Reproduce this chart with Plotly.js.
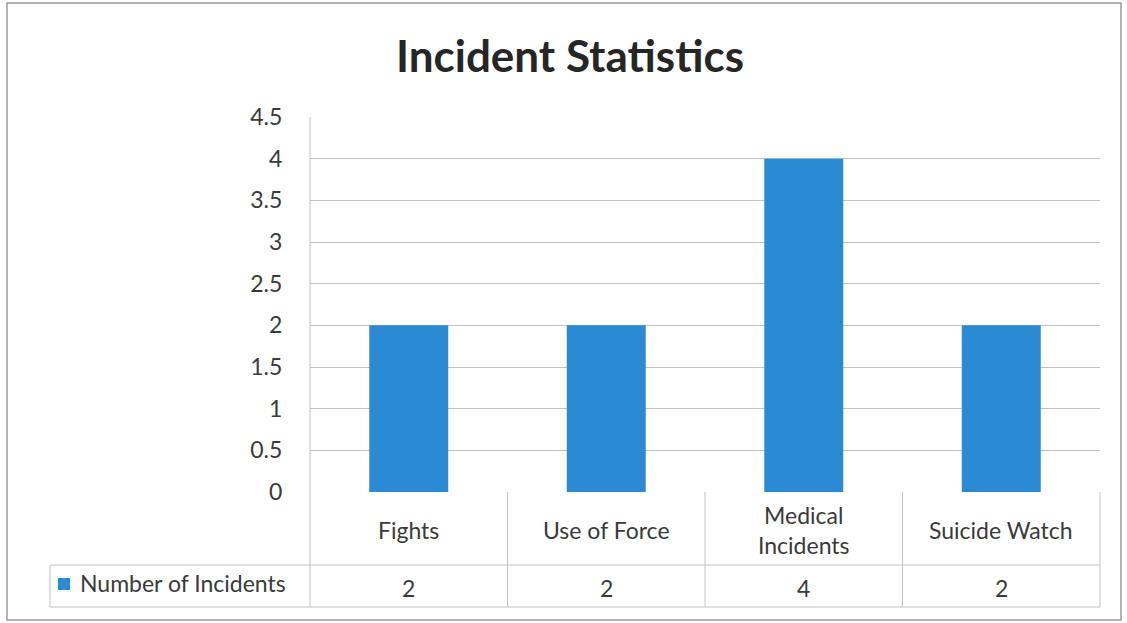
<!DOCTYPE html>
<html>
<head>
<meta charset="utf-8">
<script src="https://cdn.plot.ly/plotly-3.0.1.min.js"></script>
<style>html,body{margin:0;padding:0;background:#fff;}#chart{width:1127px;height:623px;}</style>
</head>
<body>
<div id="chart"></div>
<script>
// ---- data ----
const categories = ["Fights", "Use of Force", "Medical Incidents", "Suicide Watch"];
const categoryLabels = ["Fights", "Use of Force", "Medical<br>Incidents", "Suicide Watch"];
const seriesName = "Number of Incidents";
const incidents = [2, 2, 4, 2];
const yTicks = [0, 0.5, 1, 1.5, 2, 2.5, 3, 3.5, 4, 4.5];
const yTickText = ["0", "0.5", "1", "1.5", "2", "2.5", "3", "3.5", "4", "4.5"];

// ---- layout geometry (pixels) ----
const W = 1127, H = 623;
const L = 310, R = 1100, T = 117, B = 492;
const px = x => (x - L) / (R - L);
const py = y => (B - y) / (B - T);

const font = "Lato, 'Open Sans', sans-serif";
const textColor = "#3a3a3a";
const lineColor = "#c2c2c2";
const barColor = "#2a8bd4";
const fs = 23;

const n = categories.length;
const shapes = [];
const annotations = [];

// outer chart border
shapes.push({type: "rect", xref: "paper", yref: "paper",
  x0: px(7), x1: px(1121), y0: py(620), y1: py(3),
  line: {color: "#9a9a9a", width: 1.5}});

// data table lines
const rowTop = B, rowMid = 565, rowBot = 607, legLeft = 50;
function hline(x0, x1, y) {
  shapes.push({type: "line", xref: "paper", yref: "paper", x0: x0, x1: x1, y0: py(y), y1: py(y),
    line: {color: lineColor, width: 1}});
}
function vline(x, y0, y1) {
  shapes.push({type: "line", xref: "paper", yref: "paper", x0: x, x1: x, y0: py(y0), y1: py(y1),
    line: {color: lineColor, width: 1}});
}
hline(px(legLeft), 1, rowMid);
hline(px(legLeft), 1, rowBot);
vline(px(legLeft), rowMid, rowBot);
vline(0, T, rowBot);
for (let i = 1; i <= n; i++) vline(i / n, rowTop, rowBot);

// legend key
shapes.push({type: "rect", xref: "paper", yref: "paper",
  x0: px(58), x1: px(70), y0: py(590), y1: py(578),
  fillcolor: barColor, line: {width: 0}});
annotations.push({xref: "paper", yref: "paper", x: px(78), y: py(583), xanchor: "left", yanchor: "middle",
  text: seriesName, showarrow: false, font: {family: font, size: fs, color: textColor}});

// category row and value row
categories.forEach((c, i) => {
  annotations.push({xref: "x", yref: "paper", x: c, y: py((rowTop + rowMid) / 2 + 1),
    xanchor: "center", yanchor: "middle", text: categoryLabels[i], showarrow: false,
    font: {family: font, size: fs, color: textColor}});
  annotations.push({xref: "x", yref: "paper", x: c, y: py((rowMid + rowBot) / 2 + 2),
    xanchor: "center", yanchor: "middle", text: String(incidents[i]), showarrow: false,
    font: {family: font, size: fs, color: textColor}});
});

const trace = {
  type: "bar", x: categories, y: incidents, name: seriesName,
  marker: {color: barColor}, hoverinfo: "x+y"
};

const layout = {
  width: W, height: H,
  margin: {l: L, r: W - R, t: T, b: H - B, pad: 0},
  paper_bgcolor: "#fff", plot_bgcolor: "#fff",
  showlegend: false,
  bargap: 0.6,
  title: {text: "<b>Incident Statistics</b>", x: px(570), xref: "paper", xanchor: "center",
    y: 1 - 57 / H, yref: "container", yanchor: "middle",
    font: {family: font, size: 44, color: "#262626"}},
  xaxis: {type: "category", range: [-0.5, n - 0.5], showticklabels: false, showgrid: false,
    zeroline: false, showline: false, ticks: "", fixedrange: true},
  yaxis: {range: [0, 4.5], tickvals: yTicks, ticktext: yTickText, showgrid: true,
    gridcolor: lineColor, gridwidth: 1, zeroline: false, showline: false,
    ticks: "outside", ticklen: 22, tickcolor: "rgba(0,0,0,0)",
    tickfont: {family: font, size: fs, color: textColor}, fixedrange: true},
  shapes: shapes,
  annotations: annotations
};

Plotly.newPlot("chart", [trace], layout, {displayModeBar: false, staticPlot: true});
</script>
</body>
</html>
